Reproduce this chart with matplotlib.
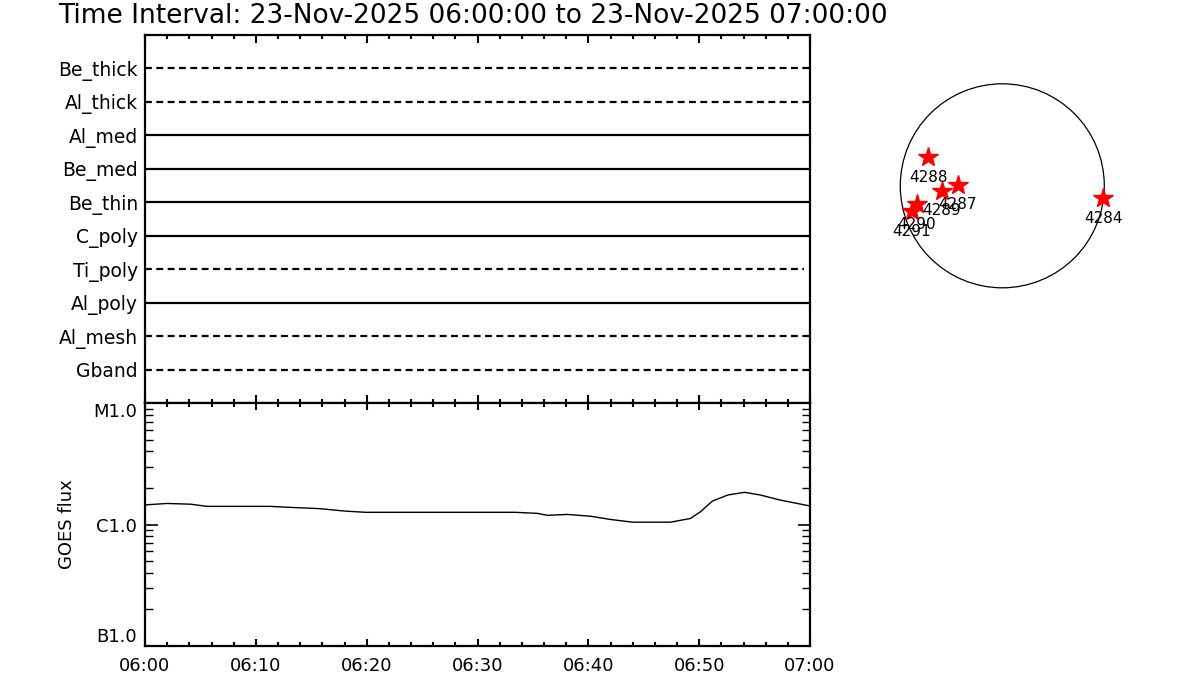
import matplotlib
matplotlib.use("Agg")
import matplotlib.pyplot as plt
from matplotlib.patches import Circle
from matplotlib.ticker import FixedLocator, NullFormatter, LogLocator
import numpy as np

plt.rcParams['font.family'] = ['DejaVu Sans']

# ---------------- data ----------------
title = "Time Interval: 23-Nov-2025 06:00:00 to 23-Nov-2025 07:00:00"

filters = ['Be_thick', 'Al_thick', 'Al_med', 'Be_med', 'Be_thin',
           'C_poly', 'Ti_poly', 'Al_poly', 'Al_mesh', 'Gband']
solid_row = [False, False, True, True, True, True, False, True, False, False]
row_start = [0, 0, 0, 0, 0, 0, 0, 0, 0, 0]        # minutes after 06:00
row_end = [60, 60, 60, 60, 60, 60, 59.5, 60, 60, 60]

tick_minutes = [0, 10, 20, 30, 40, 50, 60]
tick_labels = ['06:00', '06:10', '06:20', '06:30', '06:40', '06:50', '07:00']

goes_t = [0, 2.0, 4.1, 5.6, 11.3, 12.6, 15.8, 18.0, 19.9, 33.4, 35.4, 36.3,
          38.1, 40.2, 42.0, 44.0, 47.4, 49.2, 50.1, 51.2, 52.6, 54.1, 55.5,
          57.3, 60]
goes_flux = [1.45e-6, 1.49e-6, 1.47e-6, 1.41e-6, 1.41e-6, 1.39e-6, 1.35e-6,
             1.29e-6, 1.26e-6, 1.26e-6, 1.235e-6, 1.19e-6, 1.21e-6, 1.17e-6,
             1.10e-6, 1.045e-6, 1.045e-6, 1.12e-6, 1.27e-6, 1.56e-6, 1.75e-6,
             1.84e-6, 1.75e-6, 1.59e-6, 1.42e-6]
flux_ticks = [1e-7, 1e-6, 1e-5]
flux_labels = ['B1.0', 'C1.0', 'M1.0']

ar_num = ['4288', '4287', '4289', '4290', '4291', '4284']
ar_x = [-707, -426, -579, -818, -866, 965]     # arcsec
ar_y = [272, 8, -47, -174, -241, -119]
r_sun = 975.0

# ---------------- figure ----------------
fig = plt.figure(figsize=(12, 7), dpi=100)
W, H = 1200.0, 700.0

def px_axes(x0, y0, x1, y1):
    return fig.add_axes([x0 / W, 1 - y1 / H, (x1 - x0) / W, (y1 - y0) / H])

ax1 = px_axes(145, 35, 810, 403)
ax2 = px_axes(145, 403, 810, 646)

fig.text(58 / W, 1 - 23 / H, title, fontsize=19, ha='left', va='baseline')

# top panel
n = len(filters)
for i, (name, solid, s, e) in enumerate(zip(filters, solid_row, row_start, row_end)):
    y = n - i
    if solid:
        ax1.plot([s, e], [y, y], color='black', lw=1.6, solid_capstyle='butt')
    else:
        ax1.plot([s, e], [y, y], color='black', lw=1.6, dashes=(3.1, 2.0),
                 dash_capstyle='butt')
ax1.set_xlim(0, 60)
ax1.set_ylim(0, n + 1)
ax1.set_yticks([n - i for i in range(n)])
ax1.set_yticklabels(filters, fontsize=13.5)
ax1.tick_params(axis='y', length=0, pad=5)
ax1.xaxis.set_major_locator(FixedLocator(tick_minutes))
ax1.xaxis.set_minor_locator(FixedLocator(np.arange(0, 61, 2)))
ax1.tick_params(axis='x', which='major', direction='in', top=True, bottom=True,
                length=6, width=1.5, labelbottom=False)
ax1.tick_params(axis='x', which='minor', direction='in', top=True, bottom=True,
                length=3, width=1.5)

# bottom panel
ax2.plot(goes_t, goes_flux, color='black', lw=1.0)
ax2.set_yscale('log')
ax2.set_ylim(1e-7, 1e-5)
ax2.set_xlim(0, 60)
ax2.set_yticks(flux_ticks)
ax2.set_yticklabels(flux_labels, fontsize=13)
ylabs = ax2.get_yticklabels()
ylabs[0].set_va('bottom')
ylabs[2].set_va('top')
ax2.tick_params(axis='y', which='major', direction='in', left=True, right=True,
                length=9, width=1.2, pad=6)
ax2.yaxis.set_minor_locator(LogLocator(base=10, subs=np.arange(2, 10)))
ax2.yaxis.set_minor_formatter(NullFormatter())
ax2.tick_params(axis='y', which='minor', direction='in', left=True, right=True,
                length=6, width=1.0)
ax2.set_ylabel('GOES flux', fontsize=13, labelpad=12)
ax2.xaxis.set_major_locator(FixedLocator(tick_minutes))
ax2.set_xticklabels(tick_labels, fontsize=13)
ax2.xaxis.set_minor_locator(FixedLocator(np.arange(0, 61, 2)))
ax2.tick_params(axis='x', which='major', direction='in', top=True, bottom=True,
                length=5, width=1.5, pad=8)
ax2.tick_params(axis='x', which='minor', direction='in', top=True, bottom=True,
                length=3, width=1.5)

for ax in (ax1, ax2):
    for sp in ax.spines.values():
        sp.set_linewidth(1.6)

# solar disk
cx, cy, half = 1002.3, 185.8, 130.0
ax3 = px_axes(cx - half, cy - half, cx + half, cy + half)
lim = half / 102.0 * r_sun
ax3.set_xlim(-lim, lim)
ax3.set_ylim(-lim, lim)
ax3.axis('off')
ax3.add_patch(Circle((0, 0), r_sun, fill=False, ec='black', lw=0.9))
ax3.plot(ar_x, ar_y, linestyle='none', marker='*', ms=15, color='red',
         mec='red', clip_on=False)
for lab, x, y in zip(ar_num, ar_x, ar_y):
    ax3.annotate(lab, (x, y), xytext=(0, -20), textcoords='offset pixels',
                 ha='center', va='center', fontsize=11, annotation_clip=False)

fig.savefig('out.png', dpi=100)
